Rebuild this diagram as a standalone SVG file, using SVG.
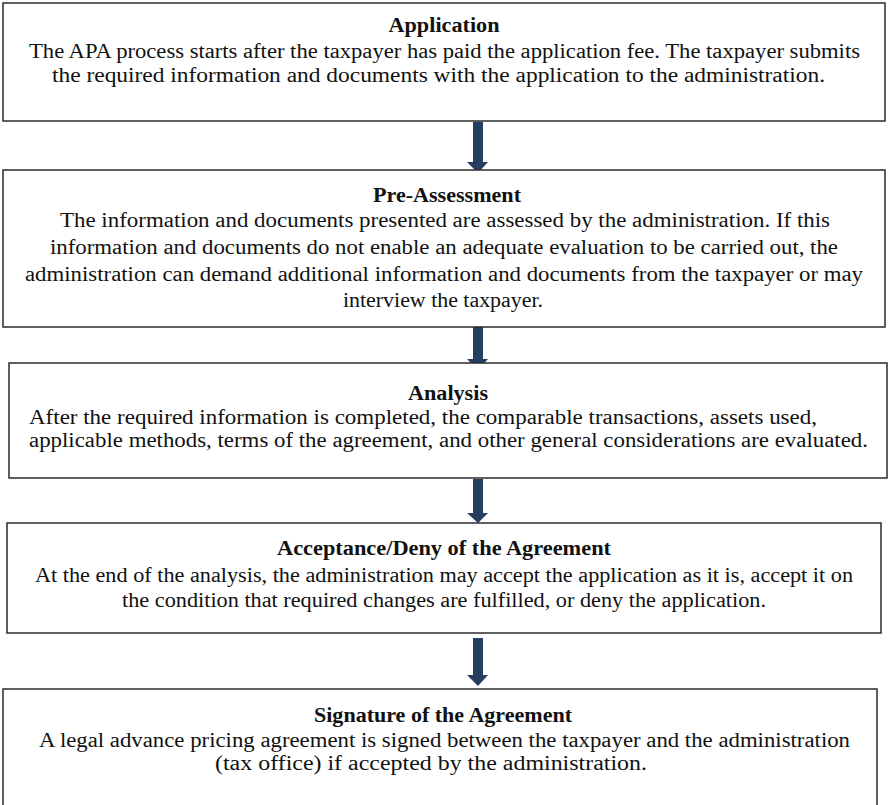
<svg xmlns="http://www.w3.org/2000/svg" width="888" height="805" viewBox="0 0 888 805">
<style>
.box{fill:#fff;stroke:#2b2b2b;stroke-width:1.5}
.t{font-family:"Liberation Serif","Times New Roman",serif;font-size:20px;fill:#111}
.h{font-family:"Liberation Serif","Times New Roman",serif;font-size:20px;font-weight:bold;fill:#111;text-anchor:middle}
.arr{fill:#243f60}
</style>
<rect width="888" height="805" fill="#fff"/>
<g id="connectors">
<path class="arr" d="M473,122H483V162H488L478,173L467,162H473Z"/>
<path class="arr" d="M473,327H483V359H488L478,370L467,359H473Z"/>
<path class="arr" d="M473,479H483V513H488L478,523L467,513H473Z"/>
<path class="arr" d="M473,638H483V675H488L478,686L467,675H473Z"/>
</g>
<g id="application">
<rect class="box" x="3" y="3" width="882" height="118"/>
<text class="h" x="444" y="32" textLength="111" lengthAdjust="spacingAndGlyphs">Application</text>
<text class="t" x="29" y="58" textLength="831" lengthAdjust="spacingAndGlyphs">The APA process starts after the taxpayer has paid the application fee. The taxpayer submits</text>
<text class="t" x="52" y="82" textLength="773" lengthAdjust="spacingAndGlyphs">the required information and documents with the application to the administration.</text>
</g>
<g id="pre-assessment">
<rect class="box" x="3" y="170" width="882" height="157"/>
<text class="h" x="447" y="202" textLength="148" lengthAdjust="spacingAndGlyphs">Pre-Assessment</text>
<text class="t" x="60" y="227" textLength="770" lengthAdjust="spacingAndGlyphs">The information and documents presented are assessed by the administration. If this</text>
<text class="t" x="50" y="254" textLength="788" lengthAdjust="spacingAndGlyphs">information and documents do not enable an adequate evaluation to be carried out, the</text>
<text class="t" x="25" y="281" textLength="838" lengthAdjust="spacingAndGlyphs">administration can demand additional information and documents from the taxpayer or may</text>
<text class="t" x="443" y="307" text-anchor="middle" textLength="200" lengthAdjust="spacingAndGlyphs">interview the taxpayer.</text>
</g>
<g id="analysis">
<rect class="box" x="9" y="363" width="878" height="115"/>
<text class="h" x="448" y="400" textLength="80" lengthAdjust="spacingAndGlyphs">Analysis</text>
<text class="t" x="29" y="424" textLength="788" lengthAdjust="spacingAndGlyphs">After the required information is completed, the comparable transactions, assets used,</text>
<text class="t" x="29" y="447" textLength="839" lengthAdjust="spacingAndGlyphs">applicable methods, terms of the agreement, and other general considerations are evaluated.</text>
</g>
<g id="acceptance">
<rect class="box" x="7" y="523" width="874" height="110"/>
<text class="h" x="444" y="555" textLength="334" lengthAdjust="spacingAndGlyphs">Acceptance/Deny of the Agreement</text>
<text class="t" x="35" y="582" textLength="818" lengthAdjust="spacingAndGlyphs">At the end of the analysis, the administration may accept the application as it is, accept it on</text>
<text class="t" x="122" y="607" textLength="644" lengthAdjust="spacingAndGlyphs">the condition that required changes are fulfilled, or deny the application.</text>
</g>
<g id="signature">
<rect class="box" x="3" y="689" width="874" height="118"/>
<text class="h" x="443" y="722" textLength="258" lengthAdjust="spacingAndGlyphs">Signature of the Agreement</text>
<text class="t" x="39" y="747" textLength="811" lengthAdjust="spacingAndGlyphs">A legal advance pricing agreement is signed between the taxpayer and the administration</text>
<text class="t" x="215" y="770" textLength="432" lengthAdjust="spacingAndGlyphs">(tax office) if accepted by the administration.</text>
</g>
</svg>
